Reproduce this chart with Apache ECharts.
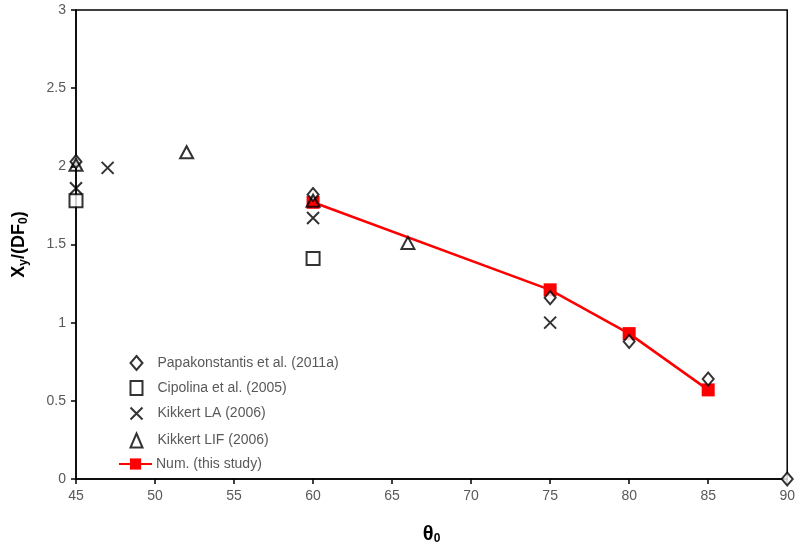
<!DOCTYPE html>
<html><head><meta charset="utf-8">
<script src="https://cdn.jsdelivr.net/npm/echarts@6/dist/echarts.min.js"></script>
<style>html,body{margin:0;padding:0;background:#fff}#c{width:798px;height:550px}</style>
</head><body><div id="c"></div>
<script>
const papaX = [45, 60, 75, 80, 85, 90];
const papaY = [2.03, 1.82, 1.16, 0.88, 0.64, 0];
const cipoX = [45, 60];
const cipoY = [1.78, 1.41];
const laX = [45, 47, 60, 75];
const laY = [1.86, 1.99, 1.67, 1.00];
const lifX = [45, 52, 60, 66];
const lifY = [2.01, 2.09, 1.78, 1.51];
const numX = [60, 75, 80, 85];
const numY = [1.77, 1.21, 0.93, 0.57];
const names = ['Papakonstantis et al. (2011a)', 'Cipolina et al. (2005)', 'Kikkert LA (2006)', 'Kikkert LIF (2006)', 'Num. (this study)'];

const zip = (a, b) => a.map((v, i) => [v, b[i]]);
const font = 'Liberation Sans';
const stroke = {color: 'none', borderColor: '#000', borderWidth: 2};
const hollow = {color: '#fff', borderColor: '#000', borderWidth: 2};
const legText = {color: '#595959', fontSize: 14, fontFamily: font};

const chart = echarts.init(document.getElementById('c'));
chart.setOption({
  animation: false,
  grid: {left: 76, right: 8, top: 10, bottom: 67, show: true, borderColor: '#000', borderWidth: 1.5},
  legend: [
    {orient: 'vertical', left: 123, top: 350, itemGap: 9, itemWidth: 12, itemHeight: 14,
     data: names.slice(0, 4), textStyle: Object.assign({padding: [0, 0, 0, 10]}, legText)},
    {orient: 'vertical', left: 113, top: 452, itemWidth: 33, itemHeight: 14,
     data: [names[4]], textStyle: Object.assign({padding: [0, 0, 0, -1]}, legText)}
  ],
  xAxis: {
    type: 'value', min: 45, max: 90, interval: 5,
    axisLine: {lineStyle: {color: '#000', width: 1.5}},
    axisTick: {inside: false, length: 5, lineStyle: {color: '#000', width: 1.5}},
    splitLine: {show: false},
    axisLabel: {color: '#595959', fontSize: 14, fontFamily: font, margin: 10},
    name: '{a|θ}{s|0}', nameLocation: 'middle', nameGap: 44,
    nameTextStyle: {rich: {a: {fontSize: 20, fontFamily: font, color: '#000', fontWeight: 'bold'}, s: {fontSize: 12, fontFamily: font, color: '#000', fontWeight: 'bold', padding: [10, 0, 0, 0]}}}
  },
  yAxis: {
    type: 'value', min: 0, max: 3, interval: 0.5,
    axisLine: {lineStyle: {color: '#000', width: 1.5}},
    axisTick: {inside: false, length: 5, lineStyle: {color: '#000', width: 1.5}},
    splitLine: {show: false},
    axisLabel: {color: '#595959', fontSize: 14, fontFamily: font, margin: 10},
    name: '{a|X}{s|y}{a|/(DF}{s|0}{a|)}', nameLocation: 'middle', nameGap: 46, nameRotate: 90,
    nameTextStyle: {rich: {a: {fontSize: 18, fontFamily: font, color: '#000', fontWeight: 'bold'}, s: {fontSize: 12, fontFamily: font, color: '#000', fontWeight: 'bold', padding: [9, 0, 0, 0]}}}
  },
  series: [
    {name: names[4], type: 'line', z: 1, data: zip(numX, numY), symbol: 'rect', symbolSize: 13,
     lineStyle: {color: '#ff0000', width: 2.5}, itemStyle: {color: '#ff0000'}},
    {name: names[0], type: 'scatter', z: 3, data: zip(papaX, papaY), symbol: 'diamond', symbolSize: [11, 13], itemStyle: hollow},
    {name: names[1], type: 'scatter', z: 3, data: zip(cipoX, cipoY), symbol: 'rect', symbolSize: 13, itemStyle: hollow},
    {name: names[2], type: 'scatter', z: 3, data: zip(laX, laY), symbol: 'path://M0,0L10,10M10,0L0,10', symbolSize: 12, itemStyle: stroke},
    {name: names[3], type: 'scatter', z: 3, data: zip(lifX, lifY), symbol: 'triangle', symbolSize: [13, 12], itemStyle: stroke}
  ]
});
</script></body></html>
